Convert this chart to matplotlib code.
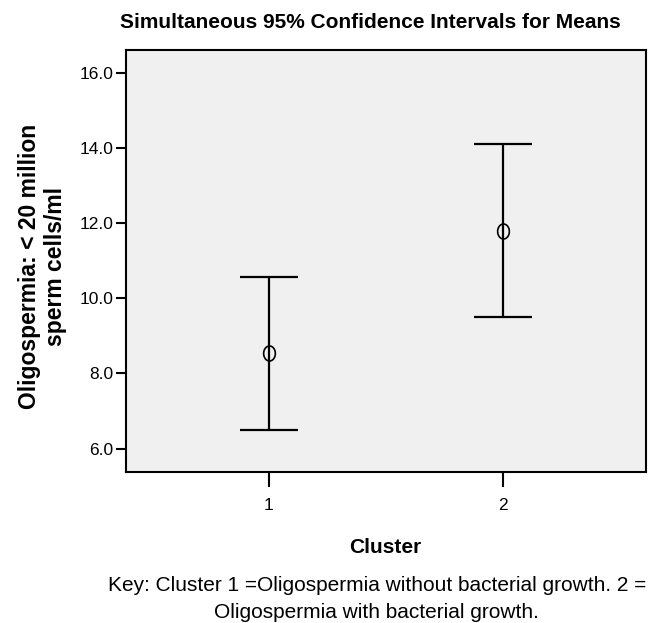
import numpy as np
import matplotlib.pyplot as plt
from matplotlib.path import Path

plt.rcParams['font.family'] = ['Liberation Sans', 'DejaVu Sans']

clusters = [1, 2]
means = [8.55, 11.78]
lower = [6.49, 9.5]
upper = [10.56, 14.1]
yticks = [6.0, 8.0, 10.0, 12.0, 14.0, 16.0]

fig = plt.figure(figsize=(6.53, 6.23), dpi=100)
ax = fig.add_axes([0.193, 0.2424, 0.796, 0.677])
ax.set_facecolor('#f0f0f0')

m = np.array(means)
err = np.array([m - np.array(lower), np.array(upper) - m])
ax.errorbar(clusters, means, yerr=err, fmt='none', ecolor='black',
            elinewidth=1.6, capsize=21, capthick=1.6)

# ellipse shaped marker like the spss "O"
t = np.linspace(0, 2 * np.pi, 60)
ell = Path(np.column_stack([0.78 * np.cos(t), np.sin(t)]))
ax.plot(clusters, means, linestyle='none', marker=ell, markersize=10.8,
        markerfacecolor='none', markeredgecolor='black', markeredgewidth=1.2)

ax.set_xlim(0.389, 2.611)
ax.set_ylim(5.375, 16.6)
ax.set_xticks(clusters)
ax.set_xticklabels([str(c) for c in clusters])
ax.set_yticks(yticks)
ax.set_yticklabels(['%.1f' % v for v in yticks])
ax.tick_params(axis='y', direction='out', length=7.2, width=1.5, labelsize=12.5, pad=2)
ax.tick_params(axis='x', direction='out', length=11, width=1.5, labelsize=12.5, pad=8)
for s in ax.spines.values():
    s.set_linewidth(1.5)

fig.text(0.567, 0.955, 'Simultaneous 95% Confidence Intervals for Means',
         ha='center', va='baseline', fontsize=15, fontweight='bold')
fig.text(0.065, 0.573, 'Oligospermia: < 20 million\nsperm cells/ml', rotation=90,
         ha='center', va='center', fontsize=16.5, fontweight='bold', linespacing=1.15)
fig.text(0.59, 0.112, 'Cluster', ha='center', va='baseline', fontsize=15, fontweight='bold')
fig.text(0.577, 0.052, 'Key: Cluster 1 =Oligospermia without bacterial growth. 2 =',
         ha='center', va='baseline', fontsize=15)
fig.text(0.577, 0.008, 'Oligospermia with bacterial growth.',
         ha='center', va='baseline', fontsize=15)

fig.savefig('out.png', dpi=100)
